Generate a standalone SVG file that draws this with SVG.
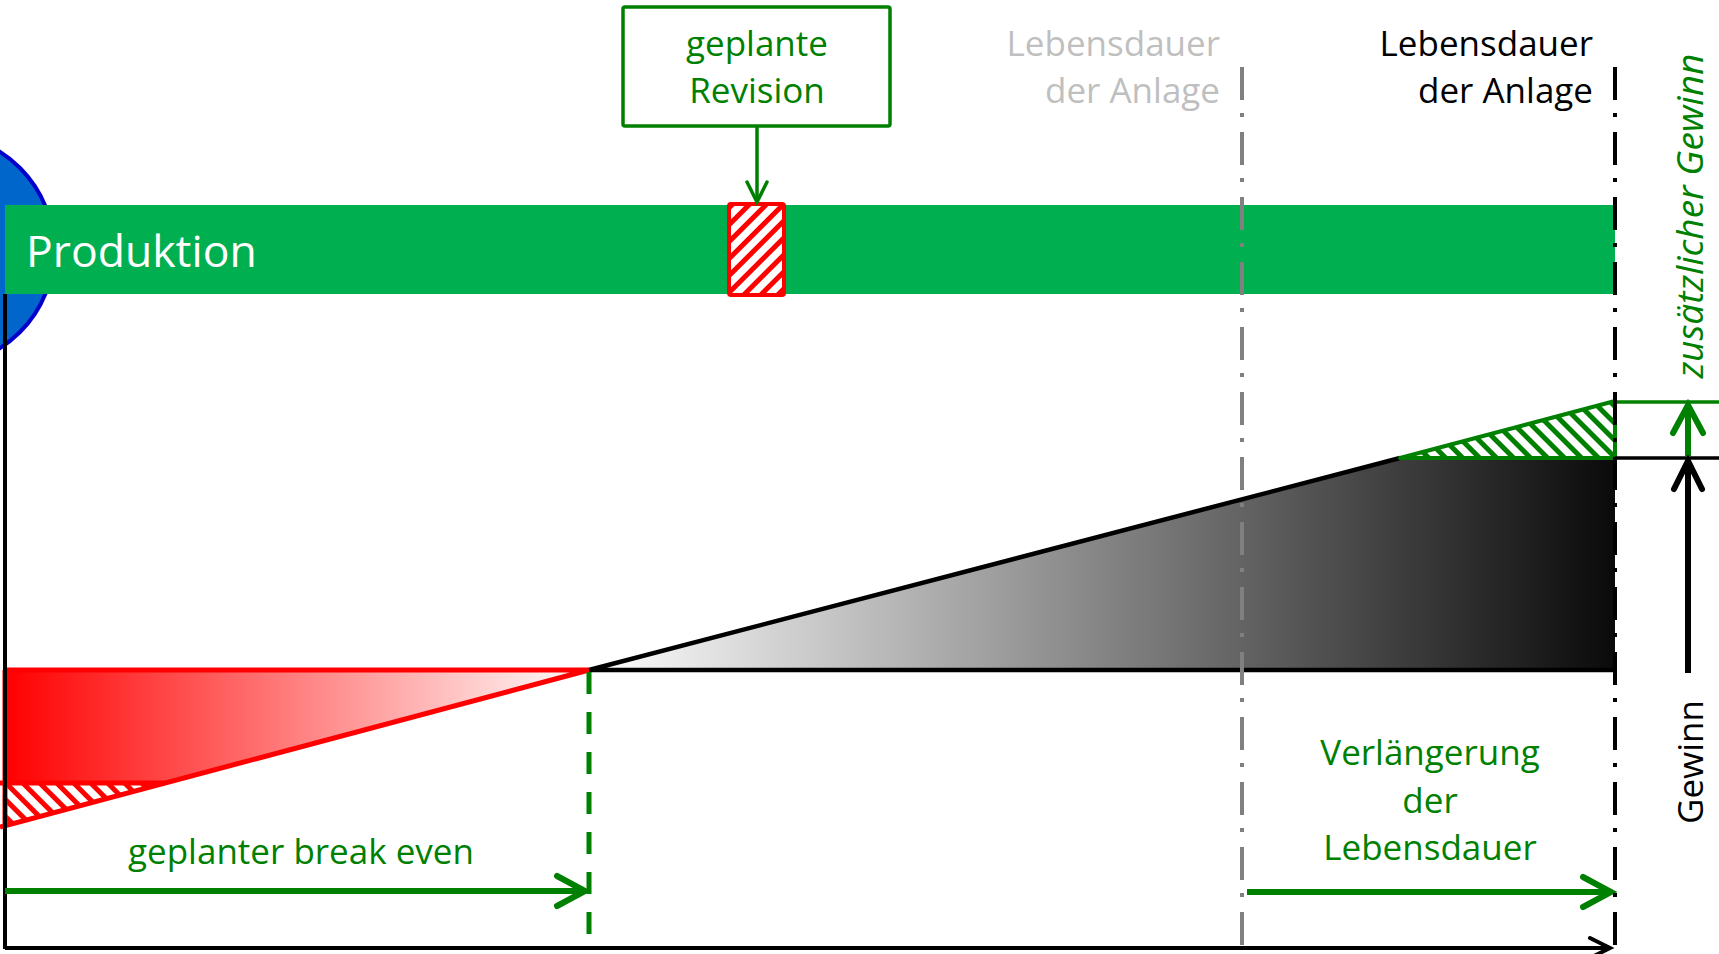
<svg xmlns="http://www.w3.org/2000/svg" width="1719" height="954" viewBox="0 0 1719 954">
<style>
text{font-family:"Open Sans","Noto Sans",sans-serif;font-size:35px}
.g{fill:#008000}
.mid{text-anchor:middle}
.end{text-anchor:end}
.dd{fill:none;stroke-width:4;stroke-dasharray:33 13 4 15}
.ln{fill:none;stroke-linecap:butt}
</style>
<defs>
<pattern id="hatchSlash" patternUnits="userSpaceOnUse" width="12" height="12" patternTransform="rotate(45)">
<rect width="12" height="12" fill="#fff"/><rect width="5" height="12" fill="#f00"/>
</pattern>
<pattern id="hatchRed" patternUnits="userSpaceOnUse" width="12" height="12" patternTransform="rotate(-45)">
<rect width="12" height="12" fill="#fff"/><rect width="5" height="12" fill="#f00"/>
</pattern>
<pattern id="hatchGreen" patternUnits="userSpaceOnUse" width="12" height="12" patternTransform="rotate(-45)">
<rect width="12" height="12" fill="#fff"/><rect width="5" height="12" fill="#008000"/>
</pattern>
<linearGradient id="gradRed" gradientUnits="userSpaceOnUse" x1="5" y1="0" x2="589" y2="0">
<stop offset="0" stop-color="#ff0000"/><stop offset="1" stop-color="#ffffff"/>
</linearGradient>
<linearGradient id="gradBlack" gradientUnits="userSpaceOnUse" x1="589" y1="0" x2="1615" y2="0">
<stop offset="0" stop-color="#ffffff"/><stop offset="1" stop-color="#0a0a0a"/>
</linearGradient>
<marker id="arrG" markerUnits="userSpaceOnUse" markerWidth="40" markerHeight="40" refX="30" refY="20" orient="auto" overflow="visible">
<path d="M2,5 L30,20 L2,35" fill="none" stroke="#008000" stroke-width="6" stroke-linecap="round"/>
</marker>
<marker id="arrK" markerUnits="userSpaceOnUse" markerWidth="40" markerHeight="40" refX="30" refY="20" orient="auto" overflow="visible">
<path d="M2,6 L30,20 L2,34" fill="none" stroke="#000" stroke-width="6" stroke-linecap="round"/>
</marker>
<marker id="arrGs" markerUnits="userSpaceOnUse" markerWidth="30" markerHeight="30" refX="22" refY="15" orient="auto" overflow="visible">
<path d="M2,5 L22,15 L2,25" fill="none" stroke="#008000" stroke-width="3.5" stroke-linecap="round"/>
</marker>
<marker id="arrKs" markerUnits="userSpaceOnUse" markerWidth="30" markerHeight="30" refX="22" refY="15" orient="auto" overflow="visible">
<path d="M2,5 L22,15 L2,25" fill="none" stroke="#000" stroke-width="4" stroke-linecap="round"/>
</marker>
</defs>
<rect width="1719" height="954" fill="#fff"/>

<g id="circle">
<circle cx="-62" cy="250" r="116" fill="#0066CC" stroke="#0000CC" stroke-width="4"/>
</g>

<g id="produktion">
<rect x="5" y="205" width="1610" height="89" fill="#00B050"/>
<text x="26" y="267" fill="#fff" style="font-size:44.5px">Produktion</text>
</g>

<g id="revision-marker">
<rect x="729" y="204" width="55" height="91" rx="2" fill="url(#hatchSlash)" stroke="#f00" stroke-width="4"/>
</g>

<g id="revision-box">
<rect x="623" y="7" width="267" height="119" rx="2" fill="#fff" stroke="#008000" stroke-width="3.5"/>
<text class="g mid" x="757" y="56">geplante</text>
<text class="g mid" x="757" y="103">Revision</text>
</g>

<g id="loss">
<polygon points="5,670 589,670 166,783 5,783" fill="url(#gradRed)"/>
<polygon points="5,783 166,783 5,826" fill="url(#hatchRed)"/>
<path d="M0,783 L166,783 M5,670 L589,670 M589,670 L0,827 M5,670 L5,826" fill="none" stroke="#f00" stroke-width="5" stroke-linejoin="round"/>
</g>

<g id="profit">
<polygon points="589,670 1400,458 1615,458 1615,670" fill="url(#gradBlack)"/>
<path d="M589,670 L1400,458 M589,670 L1615,670" fill="none" stroke="#000" stroke-width="4.5"/>
</g>

<g id="extra-profit">
<polygon points="1400,458 1615,401 1615,458" fill="url(#hatchGreen)" stroke="#008000" stroke-width="4" stroke-linejoin="round"/>
</g>

<g id="connectors">
<line class="ln" x1="5" y1="294" x2="5" y2="949" stroke="#000" stroke-width="4"/>
<line class="ln" x1="5" y1="948" x2="1610" y2="948" stroke="#000" stroke-width="4" marker-end="url(#arrKs)"/>
<line class="ln" x1="757" y1="126" x2="757" y2="202" stroke="#008000" stroke-width="3.5" marker-end="url(#arrGs)"/>
<line class="ln" x1="589" y1="672" x2="589" y2="940" stroke="#008000" stroke-width="5" stroke-dasharray="22 18"/>
<line class="ln" x1="5" y1="891" x2="585" y2="891" stroke="#008000" stroke-width="6" marker-end="url(#arrG)"/>
<line class="ln" x1="1247" y1="892" x2="1611" y2="892" stroke="#008000" stroke-width="6" marker-end="url(#arrG)"/>
<line class="ln" x1="1615" y1="402" x2="1719" y2="402" stroke="#008000" stroke-width="3.5"/>
<line class="ln" x1="1615" y1="458" x2="1719" y2="458" stroke="#000" stroke-width="3.5"/>
<line class="ln" x1="1688" y1="456" x2="1688" y2="405" stroke="#008000" stroke-width="6" marker-end="url(#arrG)"/>
<line class="ln" x1="1688" y1="673" x2="1688" y2="461" stroke="#000" stroke-width="6" marker-end="url(#arrK)"/>
<line class="dd" x1="1242" y1="67" x2="1242" y2="950" stroke="#808080"/>
<line class="dd" x1="1615" y1="67" x2="1615" y2="950" stroke="#000"/>
</g>

<g id="lifetime-old">
<text class="end" x="1220" y="56" fill="#BFBFBF">Lebensdauer</text>
<text class="end" x="1220" y="103" fill="#BFBFBF">der Anlage</text>
</g>

<g id="lifetime-new">
<text class="end" x="1593" y="56" fill="#000">Lebensdauer</text>
<text class="end" x="1593" y="103" fill="#000">der Anlage</text>
</g>

<g id="label-extra">
<text class="g mid" transform="translate(1703,216) rotate(-90)" style="font-style:italic;font-size:37px">zusätzlicher Gewinn</text>
</g>

<g id="label-gewinn">
<text class="mid" transform="translate(1703,762) rotate(-90)" fill="#000">Gewinn</text>
</g>

<g id="label-breakeven">
<text class="g mid" x="301" y="864">geplanter break even</text>
</g>

<g id="label-extension">
<text class="g mid" x="1430" y="765">Verlängerung</text>
<text class="g mid" x="1430" y="813">der</text>
<text class="g mid" x="1430" y="860">Lebensdauer</text>
</g>
</svg>
